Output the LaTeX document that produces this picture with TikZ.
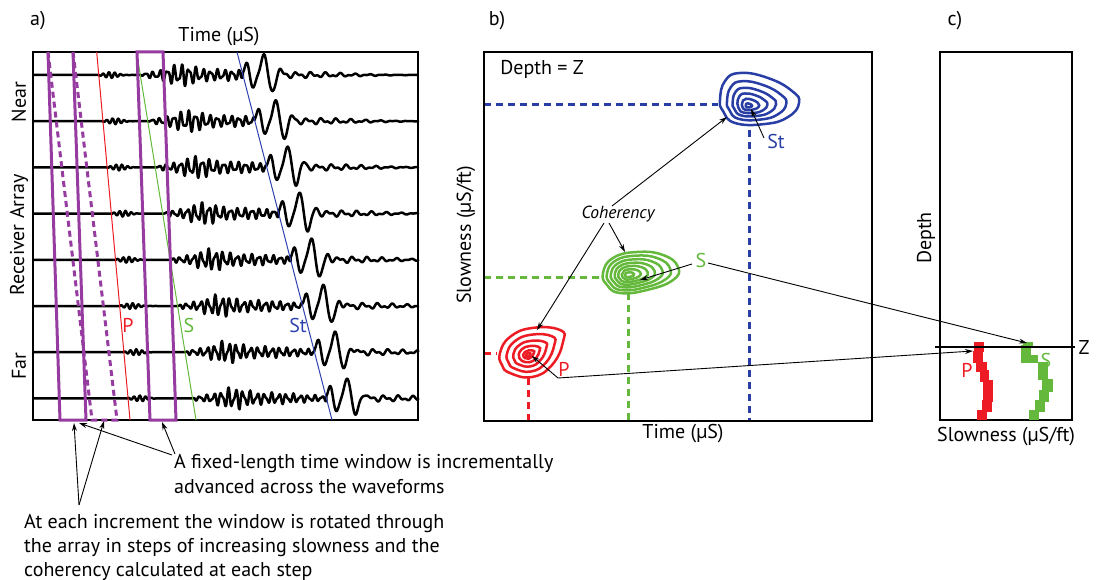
\documentclass[tikz,border=0pt]{standalone}
\usepackage{fontspec}
\setmainfont{PT Sans}
\usetikzlibrary{arrows.meta}
\definecolor{wred}{RGB}{237,28,36}
\definecolor{wgreen}{RGB}{100,185,60}
\definecolor{wblue}{RGB}{40,62,165}
\definecolor{lblue}{RGB}{45,65,175}
\definecolor{wpurple}{RGB}{150,60,160}
\begin{document}
\begin{tikzpicture}[x=1pt,y=-1pt,
  declare function={
    g(\qa,\qc,\qw)=exp(-min(((\qa-\qc)/\qw)^2,20));
    pulse(\pu)=-13*g(\pu,4,3)+13*g(\pu,10,3.5)-21*g(\pu,21,4)+17*g(\pu,29,4)-5*g(\pu,37,3);
    tail(\tu,\tph)=3.2*(1-g(\tu,0,35))*g(\tu,40,75)*(0.7*sin(25*\tu+\tph)+0.5*sin(47*\tu+2*\tph));
  }]
\tikzset{
  trace/.style={line width=2.5pt, line join=round},
  boxline/.style={line width=2.6pt},
  win/.style={draw=wpurple, line width=3pt},
  windash/.style={draw=wpurple, line width=3pt, dash pattern=on 6pt off 4pt},
  arr/.style={-{Stealth[length=8pt,width=5pt]}, line width=0.9pt},
  ctr/.style={line width=2.5pt},
  dline/.style={line width=3pt, dash pattern=on 7pt off 5pt},
  lbl/.style={font=\fontsize{20}{24}\selectfont, inner sep=0pt},
  arrival/.style={line width=1pt},
}
\useasboundingbox (0,0) rectangle (1100,580);

% ---------------- panel a ----------------
\node[lbl] (la) at (38,21) {a)};
\node[lbl] (timeA) at (219,37) {Time (µS)};
\node[lbl, rotate=90] (near) at (19,102) {Near};
\node[lbl, rotate=90] (recv) at (19,235) {Receiver Array};
\node[lbl, rotate=90] (far) at (19,366) {Far};

\foreach \i in {0,...,7}{
  \pgfmathsetmacro\yb{75+46.2*\i}
  \pgfmathsetmacro\tp{96.7+(\yb-52)*0.0905}
  \pgfmathsetmacro\ts{136.6+(\yb-52)*0.161}
  \pgfmathsetmacro\tt{237+(\yb-52)*0.258}
  \pgfmathsetmacro\ph{37*\i}
  \draw[trace] (33,\yb) -- (\tp,\yb)
    -- plot[domain=\tp:\ts, samples=70] (\x,{\yb+3*g(\x-\tp,12,9)*sin(62*(\x-\tp)+\ph)})
    -- plot[domain=\ts:\tt, samples=200] (\x,{\yb+(1-g(\x-\ts,0,3))*(2.5+7.5*g(\x-\ts,40,18)+3*g(\x-\ts,80,35))*(0.75*sin(50*(\x-\ts)+\ph)+0.35*sin(83*(\x-\ts)+2*\ph))})
    -- plot[domain=\tt:418, samples=200] (\x,{\yb+pulse(\x-\tt)+tail(\x-\tt,\ph)})
    -- (418,\yb);
}
\draw[boxline] (33,52) rectangle (418,420);

\coordinate (pTop) at (96.7,52);  \coordinate (pBot) at (130,420);
\coordinate (sTop) at (136.6,52); \coordinate (sBot) at (196,420);
\coordinate (tTop) at (237,52);   \coordinate (tBot) at (332,420);
\draw[arrival, wred] (pTop) -- (pBot);
\draw[arrival, wgreen] (sTop) -- (sBot);
\draw[arrival, lblue] (tTop) -- (tBot);
\node[lbl, text=wred] (pA) at (128,325) {P};
\node[lbl, text=wgreen] (sA) at (189,325) {S};
\node[lbl, text=lblue] (stA) at (298,325) {St};

% windows
\coordinate (w1a) at (48,52);  \coordinate (w1b) at (60,420);
\coordinate (w1c) at (86,420); \coordinate (w1d) at (73,52);
\coordinate (w1e) at (92,420); \coordinate (w1f) at (117,420);
\coordinate (w2a) at (137,52); \coordinate (w2b) at (150,420);
\coordinate (w2c) at (176,420);\coordinate (w2d) at (163,52);
\draw[windash] (w1a) -- (w1e) -- (w1f) -- (w1d);
\draw[win] (w1a) -- (w1b) -- (w1c) -- (w1d);
\draw[win] (w2a) -- (w2b) -- (w2c) -- (w2d) -- cycle;

% annotations
\coordinate (tipW1) at (74,423);
\coordinate (tipW1r) at (79,423);
\coordinate (tipDash) at (104,421);
\coordinate (tipW2) at (162,422);
\coordinate (fromAt) at (79,505);
\coordinate (fromFix) at (172,455);
\coordinate (fromFix2) at (175,454);
\draw[arr] (fromAt) -- (tipW1);
\draw[arr] (fromAt) -- (tipDash);
\draw[arr] (fromFix) -- (tipW1r);
\draw[arr] (fromFix2) -- (tipW2);
\node[lbl, anchor=base west] (fx1) at (174,468) {A fixed-length time window is incrementally};
\node[lbl, anchor=base west] (fx2) at (174,493) {advanced across the waveforms};
\node[lbl, anchor=base west] (at1) at (24,528) {At each increment the window is rotated through};
\node[lbl, anchor=base west] (at2) at (24,552) {the array in steps of increasing slowness and the};
\node[lbl, anchor=base west] (at3) at (24,576) {coherency calculated at each step};

% ---------------- panel b ----------------
\node[lbl] (lb) at (497,21) {b)};
\node[lbl] (depthZ) at (542,69) {Depth = Z};
\node[lbl] (timeB) at (683,434) {Time (µS)};
\node[lbl, rotate=90] (slowB) at (466,235) {Slowness (µS/ft)};

\coordinate (bL1) at (484,105); \coordinate (bR1) at (718,105);
\coordinate (bT1) at (749,130); \coordinate (bB1) at (749,421);
\coordinate (bL2) at (484,277); \coordinate (bR2) at (601,277);
\coordinate (bT2) at (628,293); \coordinate (bB2) at (628,421);
\coordinate (bL3) at (484,353); \coordinate (bR3) at (497,353);
\coordinate (bT3) at (528,378); \coordinate (bB3) at (528,421);
\draw[dline, wblue] (bL1) -- (bR1);
\draw[dline, wblue] (bT1) -- (bB1);
\draw[dline, wgreen] (bL2) -- (bR2);
\draw[dline, wgreen] (bT2) -- (bB2);
\draw[dline, wred] (bL3) -- (bR3);
\draw[dline, wred] (bT3) -- (bB3);

% contours
\foreach \s in {1,0.75,0.55,0.38,0.22,0.08}
  \draw[ctr, wblue, shift={(748,106)}, scale=\s] plot[smooth cycle, tension=0.8] coordinates
   {(-28,-6) (-23,-25) (-8,-33) (20,-28) (44,-15) (51,-3) (40,11) (17,18) (-13,17) (-25,5)};
\foreach \s in {1,0.84,0.68,0.53,0.39,0.25,0.12}
  \draw[ctr, wgreen, shift={(628,275)}, scale=\s] plot[smooth cycle, tension=0.8] coordinates
   {(-25,-2) (-15,-17) (9,-23) (35,-20) (50,-8) (45,5) (19,15) (-8,18) (-21,10)};
\foreach \s in {1,0.75,0.52,0.33,0.17,0.07}
  \draw[ctr, wred, shift={(528,355)}, scale=\s] plot[smooth cycle, tension=0.8] coordinates
   {(-28,-2) (-18,-18) (4,-27) (32,-25) (35,-13) (24,10) (4,22) (-18,18) (-26,10)};

\draw[boxline] (484,52) rectangle (872,421);

\node[lbl, text=wblue] (stB) at (776,142) {St};
\node[lbl, text=wgreen] (sB) at (701,260) {S};
\node[lbl, text=wred] (pB) at (564,369) {P};
\node[font=\fontsize{17.5}{21}\selectfont\itshape, inner sep=0pt] (coh) at (618,214) {Coherency};

\coordinate (stFrom) at (764,138); \coordinate (stPk) at (751,109);
\coordinate (sFrom) at (692,264);  \coordinate (sPk) at (640,280);
\coordinate (pFrom) at (558,378);  \coordinate (pPk) at (532,356);
\coordinate (cohA) at (612,206);   \coordinate (cohTipA) at (727,117);
\coordinate (cohB) at (604,223);   \coordinate (cohTipB) at (537,330);
\coordinate (cohC) at (609,223);   \coordinate (cohTipC) at (625,252);
\coordinate (sLong) at (708,263);
\draw[arr] (stFrom) -- (stPk);
\draw[arr] (sFrom) -- (sPk);
\draw[arr] (pFrom) -- (pPk);
\draw[arr] (cohA) -- (cohTipA);
\draw[arr] (cohB) -- (cohTipB);
\draw[arr] (cohC) -- (cohTipC);

% ---------------- panel c ----------------
\node[lbl] (lc) at (955,21) {c)};
\draw[boxline] (940,52) rectangle (1072,420);
\node[lbl, rotate=90] (depthC) at (926,238) {Depth};
\node[lbl] (slowC) at (1006,437) {Slowness (µS/ft)};

\foreach \a/\b/\c/\d in {974/342/984/352, 973/351/983/363, 976/362/987/372, 980/370/989/382, 983/380/993/402, 982/400/992/412, 977/410/987/420}
  \fill[wred] (\a,\b) rectangle (\c,\d);
\foreach \a/\b/\c/\d in {1023/342/1033/347, 1021/345/1031/363, 1028/355/1038/363, 1038/362/1048/380, 1042/379/1053/392, 1039/390/1049/402, 1035/400/1045/412, 1029/410/1039/420}
  \fill[wgreen] (\a,\b) rectangle (\c,\d);

\coordinate (zL) at (935,347); \coordinate (zR) at (1075,347);
\draw[boxline] (zL) -- (zR);
\node[lbl] (zlab) at (1084,347) {Z};
\node[lbl, text=wred] (pC) at (967,370) {P};
\node[lbl, text=wgreen] (sC) at (1046,360) {S};

\coordinate (pTipC) at (973,351);
\coordinate (sTipC) at (1027,343);
\draw[arr] (pFrom) -- (pTipC);
\draw[arr] (sLong) -- (sTipC);
\end{tikzpicture}
\end{document}
